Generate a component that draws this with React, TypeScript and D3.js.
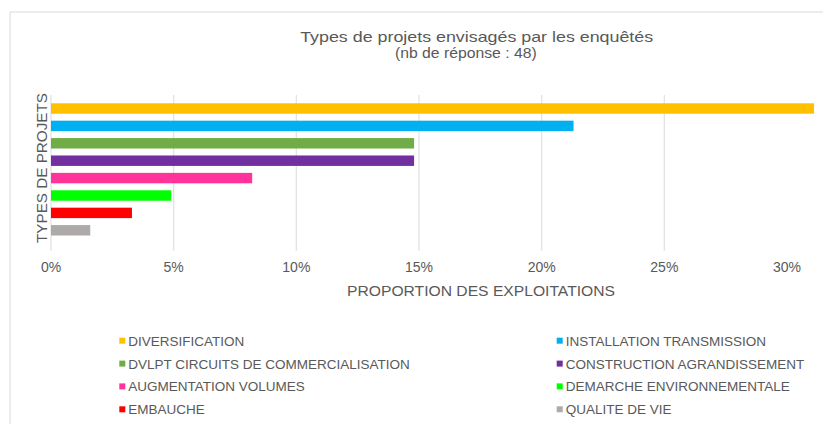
import React from "react";
import * as d3 from "d3";

const categories = [
  "DIVERSIFICATION",
  "INSTALLATION TRANSMISSION",
  "DVLPT CIRCUITS DE COMMERCIALISATION",
  "CONSTRUCTION AGRANDISSEMENT",
  "AUGMENTATION VOLUMES",
  "DEMARCHE ENVIRONNEMENTALE",
  "EMBAUCHE",
  "QUALITE DE VIE",
];
const values = [31.1, 21.3, 14.8, 14.8, 8.2, 4.9, 3.3, 1.6];
const colors = ["#FFC000", "#00B0F0", "#70AD47", "#7030A0", "#FF3399", "#00FF00", "#FF0000", "#AEAAAA"];
const tickValues = [0, 5, 10, 15, 20, 25, 30];
const gridValues = [0, 5, 10, 15, 20, 25];
const title = "Types de projets envisagés par les enquêtés";
const subtitle = "(nb de réponse : 48)";
const xTitle = "PROPORTION DES EXPLOITATIONS";
const yTitle = "TYPES DE PROJETS";

const W = 826;
const H = 424;
const FONT = "Arial, 'Liberation Sans', sans-serif";
const TXT = "#595959";

export default function App() {
  const x = d3.scaleLinear().domain([0, 30]).range([51, 787]);
  const y = d3.scaleBand<string>().domain(categories).range([99.8, 239]).paddingInner(0.4).paddingOuter(0.2);
  const legendRows = [340.7, 363.6, 386.4, 409.3];
  const legendCols = [119.3, 556.7];

  return (
    <div style={{ position: "absolute", left: 0, top: 0 }}>
      <svg width={W} height={H} style={{ display: "block", background: "#fff" }} fontFamily={FONT}>
        <rect x={0} y={0} width={W} height={H} fill="#fff" />
        {/* frame */}
        <line x1={10} y1={12} x2={823} y2={12} stroke="#d9d9d9" strokeWidth={1} />
        <line x1={10} y1={12} x2={10} y2={H} stroke="#d9d9d9" strokeWidth={1} />

        {/* title */}
        <text x={476.7} y={41.5} textAnchor="middle" fontSize={14.5} fill={TXT} textLength={353} lengthAdjust="spacingAndGlyphs">
          {title}
        </text>
        <text x={465.8} y={58} textAnchor="middle" fontSize={14} fill={TXT} textLength={141.7} lengthAdjust="spacingAndGlyphs">
          {subtitle}
        </text>

        {/* gridlines */}
        {gridValues.map((v) => (
          <line key={v} x1={x(v)} x2={x(v)} y1={95} y2={251} stroke="#e3e3e3" strokeWidth={1.3} />
        ))}

        {/* bars */}
        {categories.map((c, i) => (
          <rect key={c} x={x(0)} y={y(c)} width={x(values[i]) - x(0)} height={y.bandwidth()} fill={colors[i]} />
        ))}

        {/* tick labels */}
        {tickValues.map((v) => (
          <text key={v} x={x(v)} y={271.7} textAnchor="middle" fontSize={14} fill={TXT}>
            {`${v}%`}
          </text>
        ))}

        {/* axis titles */}
        <text x={481} y={296} textAnchor="middle" fontSize={14} fill={TXT} textLength={268} lengthAdjust="spacingAndGlyphs">
          {xTitle}
        </text>
        <text
          transform={`translate(46.6,168) rotate(-90)`}
          textAnchor="middle"
          fontSize={15.5}
          fill={TXT}
          textLength={150}
          lengthAdjust="spacingAndGlyphs"
        >
          {yTitle}
        </text>

        {/* legend */}
        {categories.map((c, i) => {
          const col = i % 2;
          const row = Math.floor(i / 2);
          const lx = legendCols[col];
          const ly = legendRows[row];
          return (
            <g key={c}>
              <rect x={lx} y={ly - 3} width={6} height={6} fill={colors[i]} />
              <text x={lx + 9} y={ly + 5} fontSize={13.5} fill={TXT}>
                {c}
              </text>
            </g>
          );
        })}
      </svg>
    </div>
  );
}
